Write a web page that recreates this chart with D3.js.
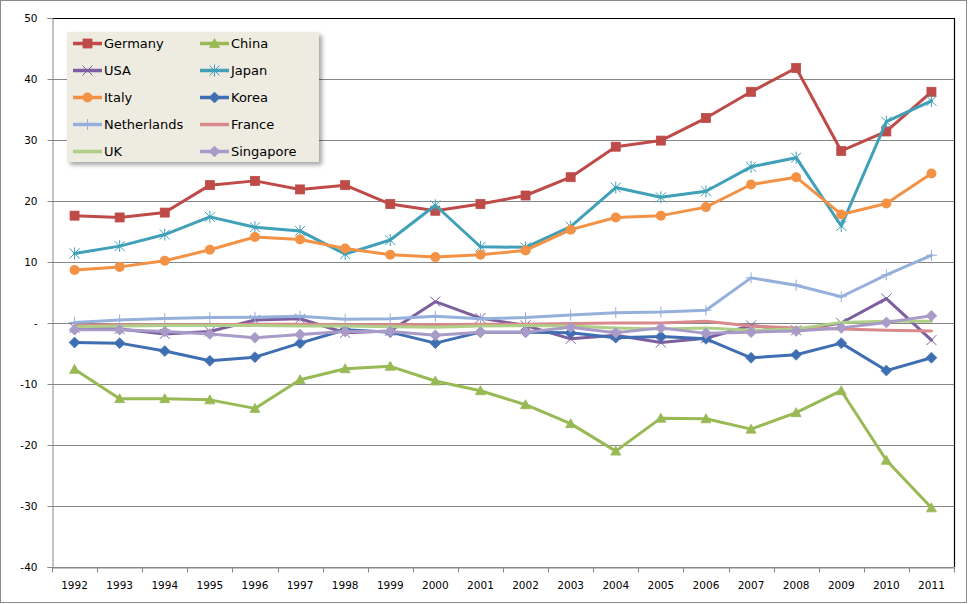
<!DOCTYPE html>
<html>
<head>
<meta charset="utf-8">
<script src="https://cdn.jsdelivr.net/npm/d3@7"></script>
<style>
  html, body { margin: 0; padding: 0; background: #fff; }
  svg { display: block; font-family: "DejaVu Sans", Verdana, sans-serif; }
</style>
</head>
<body>
<svg id="chart" width="968" height="604"></svg>
<script>
const years = ["1992","1993","1994","1995","1996","1997","1998","1999","2000","2001","2002","2003","2004","2005","2006","2007","2008","2009","2010","2011"];
const yTicks = [-40, -30, -20, -10, 0, 10, 20, 30, 40, 50];

const germany     = [17.6, 17.3, 18.1, 22.6, 23.3, 21.9, 22.6, 19.5, 18.4, 19.5, 20.9, 23.9, 28.9, 29.9, 33.6, 37.9, 41.8, 28.2, 31.4, 37.9];
const china       = [-7.6, -12.4, -12.4, -12.6, -14.0, -9.3, -7.5, -7.1, -9.5, -11.1, -13.4, -16.5, -21.0, -15.6, -15.7, -17.4, -14.7, -11.1, -22.5, -30.3];
const usa         = [-0.8, -1.0, -1.8, -1.4, 0.5, 0.7, -1.6, -1.3, 3.5, 0.8, -0.4, -2.6, -2.0, -3.2, -2.5, -0.4, -1.2, 0.0, 4.0, -2.8];
const japan       = [11.4, 12.6, 14.5, 17.4, 15.7, 15.1, 11.3, 13.6, 19.3, 12.5, 12.4, 15.8, 22.2, 20.6, 21.6, 25.6, 27.1, 15.9, 33.0, 36.4];
const italy       = [8.7, 9.2, 10.2, 12.0, 14.1, 13.7, 12.2, 11.2, 10.8, 11.2, 11.9, 15.3, 17.3, 17.6, 19.0, 22.7, 23.9, 17.8, 19.6, 24.5];
const korea       = [-3.2, -3.3, -4.6, -6.2, -5.6, -3.3, -1.1, -1.5, -3.3, -1.5, -1.5, -1.6, -2.4, -2.2, -2.6, -5.7, -5.2, -3.3, -7.8, -5.7];
const netherlands = [0.1, 0.5, 0.75, 0.9, 0.95, 1.1, 0.6, 0.7, 1.1, 0.7, 0.9, 1.3, 1.7, 1.8, 2.1, 7.4, 6.2, 4.3, 7.9, 11.1];
const france      = [-0.4, -0.3, -0.3, -0.3, -0.2, -0.2, -0.3, -0.3, -0.3, -0.2, -0.2, -0.1, 0.0, 0.0, 0.3, -0.5, -0.8, -1.0, -1.2, -1.3];
const uk          = [-0.6, -0.5, -0.4, -0.4, -0.4, -0.5, -0.5, -0.6, -0.7, -0.5, -0.4, -0.5, -0.8, -1.0, -0.8, -1.2, -1.0, 0.1, 0.3, 0.3];
const singapore   = [-1.1, -1.1, -1.4, -1.8, -2.4, -1.9, -1.4, -1.4, -2.0, -1.5, -1.5, -0.7, -1.6, -0.8, -1.7, -1.5, -1.3, -0.8, 0.1, 1.2];

const seriesNames   = ["Germany","China","USA","Japan","Italy","Korea","Netherlands","France","UK","Singapore"];
const seriesValues  = [germany, china, usa, japan, italy, korea, netherlands, france, uk, singapore];
const seriesColors  = ["#BE4B48","#98B954","#7D5FA0","#3FA0B8","#F39245","#3F6FB2","#95B0DA","#D9898B","#AFCF88","#A99BC8"];
const seriesMarkers = ["square","triangle","x","star","circle","diamond","plus","none","none","diamond"];

const svg = d3.select("#chart");
const W = 968, H = 604;
const plot = {left: 52, right: 954, top: 18, bottom: 567};

// outer chart border
svg.append("rect").attr("x", 0.5).attr("y", 0.5).attr("width", W - 2).attr("height", H - 2)
  .attr("fill", "#fff").attr("stroke", "#8a8a8a").attr("stroke-width", 1);

const x = d3.scaleBand().domain(years).range([plot.left, plot.right]);
const y = d3.scaleLinear().domain([-40, 50]).range([plot.bottom, plot.top]);
const cx = d => x(d) + x.bandwidth() / 2;

// gridlines
svg.append("g").attr("transform", `translate(${plot.left},0)`)
  .call(d3.axisLeft(y).tickValues(yTicks).tickSize(-(plot.right - plot.left)).tickFormat(""))
  .call(g => g.select(".domain").remove())
  .call(g => g.selectAll("line").attr("stroke", "#868686").attr("shape-rendering", "crispEdges"));

// plot border top / right (black)
svg.append("line").attr("x1", plot.left).attr("x2", plot.right + 0.5).attr("y1", y(50) + 0.5).attr("y2", y(50) + 0.5)
  .attr("stroke", "#000").attr("stroke-width", 1.2);
svg.append("line").attr("x1", plot.right + 0.5).attr("x2", plot.right + 0.5).attr("y1", y(50)).attr("y2", y(-40))
  .attr("stroke", "#000").attr("stroke-width", 1.2);

// y axis
const yAxis = svg.append("g").attr("transform", `translate(${plot.left + 0.5},0)`)
  .call(d3.axisLeft(y).tickValues(yTicks).tickSize(5).tickPadding(10).tickFormat(d => d === 0 ? "-" : d));
yAxis.select(".domain").attr("stroke", "#868686");
yAxis.selectAll("line").attr("stroke", "#868686");
yAxis.selectAll("text").attr("font-size", "10.5px").attr("fill", "#000").attr("font-family", "DejaVu Sans, sans-serif");

// x axis
const xAxis = svg.append("g").attr("transform", `translate(0,${plot.bottom + 0.5})`)
  .call(d3.axisBottom(x).tickSize(0).tickPadding(14));
xAxis.select(".domain").attr("stroke", "#868686");
xAxis.selectAll("text").attr("font-size", "10.5px").attr("fill", "#000").attr("font-family", "DejaVu Sans, sans-serif");
// boundary ticks between categories
const boundaries = years.map(d => x(d)).concat([x(years[years.length - 1]) + x.bandwidth()]);
xAxis.selectAll("line.bt").data(boundaries).enter().append("line").attr("class", "bt")
  .attr("x1", d => Math.round(d) + 0.5).attr("x2", d => Math.round(d) + 0.5)
  .attr("y1", 0).attr("y2", 5).attr("stroke", "#868686");

// marker drawing
function drawMarker(g, type, px, py, color, s) {
  s = s || 1;
  if (type === "square") {
    g.append("rect").attr("x", px - 4.5 * s).attr("y", py - 4.5 * s).attr("width", 9 * s).attr("height", 9 * s)
      .attr("fill", color).attr("stroke", color).attr("stroke-width", 0.8);
  } else if (type === "triangle") {
    g.append("path").attr("d", `M${px},${py - 5 * s}L${px + 5 * s},${py + 4 * s}L${px - 5 * s},${py + 4 * s}Z`)
      .attr("fill", color).attr("stroke", color).attr("stroke-width", 0.8);
  } else if (type === "circle") {
    g.append("circle").attr("cx", px).attr("cy", py).attr("r", 5 * s).attr("fill", color);
  } else if (type === "diamond") {
    g.append("path").attr("d", `M${px},${py - 5.5 * s}L${px + 5.5 * s},${py}L${px},${py + 5.5 * s}L${px - 5.5 * s},${py}Z`)
      .attr("fill", color).attr("stroke", color).attr("stroke-width", 0.6);
  } else if (type === "x") {
    const r = 5 * s;
    g.append("path").attr("d", `M${px - r},${py - r}L${px + r},${py + r}M${px - r},${py + r}L${px + r},${py - r}`)
      .attr("stroke", color).attr("stroke-width", 1).attr("fill", "none");
  } else if (type === "star") {
    const r = 5 * s;
    g.append("path").attr("d", `M${px - r},${py - r}L${px + r},${py + r}M${px - r},${py + r}L${px + r},${py - r}M${px},${py - r * 1.2}L${px},${py + r * 1.2}`)
      .attr("stroke", color).attr("stroke-width", 1).attr("fill", "none");
  } else if (type === "plus") {
    const r = 5.5 * s;
    g.append("path").attr("d", `M${px - r},${py}L${px + r},${py}M${px},${py - r}L${px},${py + r}`)
      .attr("stroke", color).attr("stroke-width", 1).attr("fill", "none");
  }
}

const line = d3.line().x(d => cx(d.year)).y(d => y(d.value));

seriesNames.forEach((name, i) => {
  const data = years.map((yr, j) => ({year: yr, value: seriesValues[i][j]}));
  const g = svg.append("g").attr("class", "series");
  g.append("path").datum(data).attr("d", line)
    .attr("fill", "none").attr("stroke", seriesColors[i]).attr("stroke-width", 3)
    .attr("stroke-linejoin", "round").attr("stroke-linecap", "round");
  data.forEach(d => drawMarker(g, seriesMarkers[i], cx(d.year), y(d.value), seriesColors[i]));
});

// legend
const defs = svg.append("defs");
const f = defs.append("filter").attr("id", "shadow").attr("x", "-10%").attr("y", "-10%").attr("width", "130%").attr("height", "130%");
f.append("feDropShadow").attr("dx", 3).attr("dy", 3).attr("stdDeviation", 2)
  .attr("flood-color", "#000").attr("flood-opacity", 0.35);

const lg = svg.append("g").attr("class", "legend");
lg.append("rect").attr("x", 67).attr("y", 32).attr("width", 252).attr("height", 130)
  .attr("fill", "#EEECE1").attr("filter", "url(#shadow)");

const colX = [73, 200];
seriesNames.forEach((name, i) => {
  const col = i % 2, row = Math.floor(i / 2);
  const ly = 43.5 + row * 27;
  const lx = colX[col];
  lg.append("line").attr("x1", lx).attr("x2", lx + 29).attr("y1", ly).attr("y2", ly)
    .attr("stroke", seriesColors[i]).attr("stroke-width", 3.5);
  drawMarker(lg, seriesMarkers[i], lx + 14.5, ly, seriesColors[i]);
  lg.append("text").attr("x", lx + 31).attr("y", ly).attr("dy", "0.36em")
    .attr("font-size", "13px").attr("fill", "#000").text(name);
});
</script>
</body>
</html>
